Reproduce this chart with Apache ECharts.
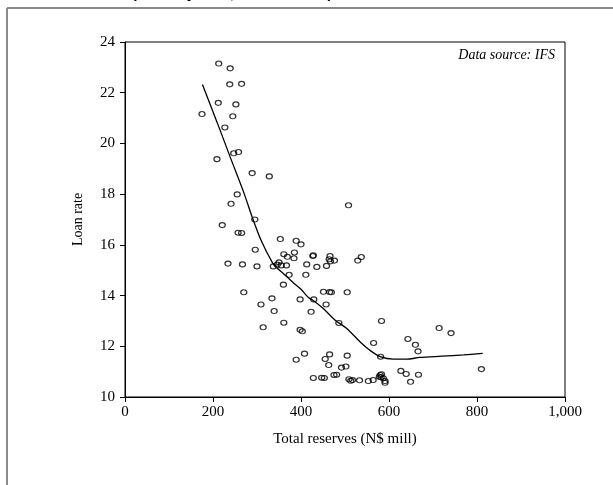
<!DOCTYPE html>
<html>
<head>
<meta charset="utf-8">
<script src="https://cdn.jsdelivr.net/npm/echarts@6/dist/echarts.min.js"></script>
<style>
  html, body { margin: 0; padding: 0; background: #fff; }
  #chart { width: 613px; height: 485px; }
</style>
</head>
<body>
<div id="chart"></div>
<script>
// Total reserves (N$ mill) against the loan rate, one point per observation
const reserves = [
  213, 239, 238, 265, 212, 252, 175, 245, 227, 247,
  258, 209, 289, 328, 255, 241, 508, 295, 221, 257,
  265, 353, 389, 400, 296, 361, 385, 369, 384, 234,
  267, 300, 350, 337, 355, 367, 346, 413, 427, 428,
  436, 466, 464, 467, 476, 458, 529, 537, 373, 411,
  360, 270, 451, 465, 469, 505, 334, 398, 429, 309,
  457, 339, 423, 486, 361, 314, 398, 403, 583, 565,
  581, 408, 389, 455, 465, 463, 505, 492, 502, 428,
  447, 453, 475, 481, 509, 513, 517, 533, 553, 564,
  580, 583, 578, 582, 587, 591, 591, 627, 639, 649,
  667, 643, 660, 666, 714, 741, 810
];
const loanRate = [
  23.15, 22.96, 22.33, 22.35, 21.60, 21.54, 21.16, 21.07, 20.63, 19.61,
  19.66, 19.38, 18.83, 18.70, 17.99, 17.62, 17.56, 17.00, 16.78, 16.48,
  16.47, 16.23, 16.16, 16.02, 15.81, 15.63, 15.70, 15.53, 15.47, 15.26,
  15.23, 15.15, 15.31, 15.15, 15.19, 15.19, 15.22, 15.23, 15.56, 15.59,
  15.13, 15.56, 15.43, 15.35, 15.38, 15.17, 15.38, 15.52, 14.82, 14.82,
  14.43, 14.13, 14.15, 14.14, 14.13, 14.13, 13.89, 13.85, 13.85, 13.65,
  13.65, 13.39, 13.36, 12.92, 12.93, 12.75, 12.65, 12.59, 13.00, 12.13,
  11.59, 11.71, 11.47, 11.50, 11.68, 11.26, 11.63, 11.16, 11.20, 10.75,
  10.76, 10.75, 10.87, 10.88, 10.70, 10.64, 10.67, 10.66, 10.63, 10.67,
  10.87, 10.90, 10.80, 10.78, 10.74, 10.56, 10.63, 11.03, 10.91, 10.60,
  10.88, 12.29, 12.06, 11.80, 12.72, 12.52, 11.10
];

// Smoothed (lowess) fit through the cloud
const fitX = [176, 210, 240, 270, 290, 310, 335, 345, 356, 383, 400, 417, 430, 450, 477, 504, 534, 556, 580, 610, 640, 670, 720, 770, 813];
const fitY = [22.32, 20.80, 19.42, 18.06, 17.05, 16.15, 15.30, 15.10, 14.93, 14.50, 14.25, 13.92, 13.78, 13.50, 13.04, 12.70, 12.18, 11.85, 11.59, 11.49, 11.49, 11.56, 11.61, 11.66, 11.72];

const xTicks = [0, 200, 400, 600, 800, 1000];
const yTicks = [10, 12, 14, 16, 18, 20, 22, 24];

const titleText = 'Loan rate (monthly data, 1993 to 2004)';
const sourceText = 'Data source: IFS';
const xName = 'Total reserves (N$ mill)';
const yName = 'Loan rate';

const serif = '"Liberation Serif", "Times New Roman", serif';

const chart = echarts.init(document.getElementById('chart'), null, { renderer: 'canvas' });

chart.setOption({
  animation: false,
  backgroundColor: '#fff',
  grid: {
    left: 125, top: 42, right: 48, bottom: 88,
    show: true, borderColor: '#000', borderWidth: 1, backgroundColor: 'transparent'
  },
  xAxis: {
    type: 'value',
    min: xTicks[0], max: xTicks[xTicks.length - 1], interval: 200,
    name: xName, nameLocation: 'middle', nameGap: 35,
    nameTextStyle: { fontFamily: serif, fontSize: 15, color: '#000' },
    axisLine: { show: true, lineStyle: { color: '#000', width: 1 } },
    axisTick: { show: true, length: 5, lineStyle: { color: '#000' } },
    axisLabel: {
      fontFamily: serif, fontSize: 15, color: '#000', margin: 8,
      formatter: v => v >= 1000 ? v.toLocaleString('en-US') : String(v)
    },
    splitLine: { show: false }
  },
  yAxis: {
    type: 'value',
    min: yTicks[0], max: yTicks[yTicks.length - 1], interval: 2,
    name: yName, nameLocation: 'middle', nameGap: 40, nameRotate: 90,
    nameTextStyle: { fontFamily: serif, fontSize: 14, color: '#000' },
    axisLine: { show: true, lineStyle: { color: '#000', width: 1 } },
    axisTick: { show: true, length: 5, lineStyle: { color: '#000' } },
    axisLabel: { fontFamily: serif, fontSize: 15, color: '#000', margin: 10 },
    splitLine: { show: false }
  },
  graphic: [
    // outer frame (left and top edges)
    { type: 'line', shape: { x1: 7, y1: 8, x2: 7, y2: 485 }, style: { stroke: '#8a8a8a', lineWidth: 2 } },
    { type: 'line', shape: { x1: 7, y1: 8, x2: 613, y2: 8 }, style: { stroke: '#8a8a8a', lineWidth: 2 } },
    {
      type: 'text', left: 60, top: -13.5,
      style: { text: titleText, font: 'bold 15px "Liberation Sans", Arial, sans-serif', fill: '#000' }
    },
    {
      type: 'text', right: 58, top: 48,
      style: { text: sourceText, font: 'italic 14px ' + serif, fill: '#000', textAlign: 'right' }
    }
  ],
  series: [
    {
      type: 'scatter',
      data: reserves.map((x, i) => [x, loanRate[i]]),
      symbol: 'circle',
      symbolSize: [6, 5],
      itemStyle: { color: 'rgba(0,0,0,0)', borderColor: '#000', borderWidth: 1.2 },
      z: 3
    },
    {
      type: 'line',
      data: fitX.map((x, i) => [x, fitY[i]]),
      smooth: 0.3,
      showSymbol: false,
      lineStyle: { color: '#000', width: 1.3 },
      z: 2
    }
  ]
});
</script>
</body>
</html>
